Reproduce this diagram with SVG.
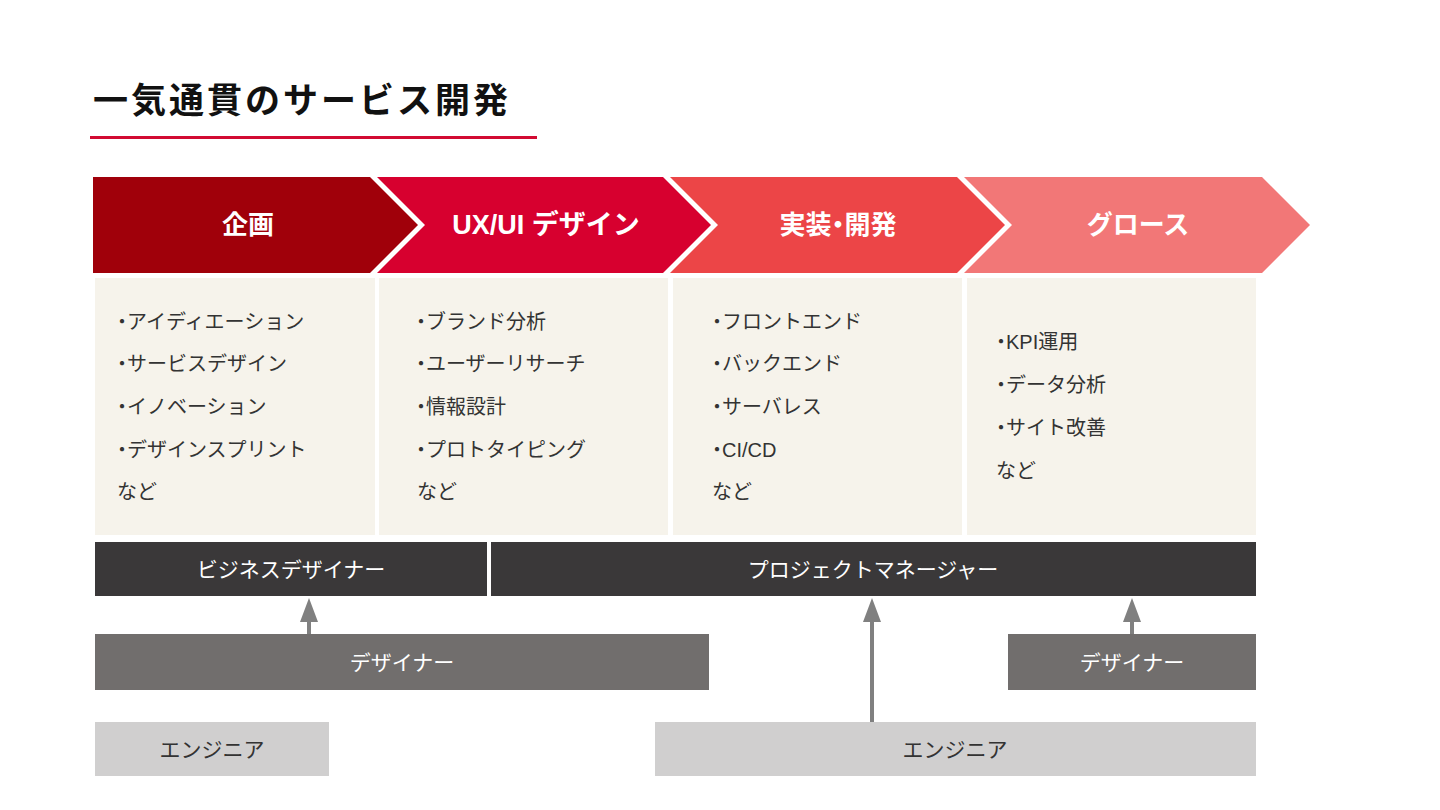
<svg xmlns="http://www.w3.org/2000/svg" width="1440" height="810" viewBox="0 0 1440 810">
<defs>
<style>
text{font-family:"Liberation Sans","Noto Sans CJK JP",sans-serif;}
.title{font-size:35px;font-weight:bold;fill:#111;letter-spacing:3px;}
.hd{font-size:26px;font-weight:bold;fill:#fff;text-anchor:middle;dominant-baseline:central;}
.box{fill:#F6F3EB;}
.li{font-size:20px;fill:#333;}
.dot{font-feature-settings:"palt" 1;}
.bar-d{fill:#3A3839;}
.bar-m{fill:#716E6D;}
.bar-l{fill:#D0CFCF;}
.bt{font-size:21px;fill:#fff;text-anchor:middle;dominant-baseline:central;}
.bt-d{font-size:21px;fill:#333;text-anchor:middle;dominant-baseline:central;}
.conn{stroke:#808080;stroke-width:4;fill:none;}
.arr{fill:#808080;}
</style>
</defs>
<rect width="1440" height="810" fill="#fff"/>
<g id="title">
<text class="title" x="93" y="113">一気通貫のサービス開発</text>
<rect x="90" y="136" width="447" height="3" fill="#D20A32"/>
</g>
<g id="phase-kikaku">
<polygon points="93,177 370,177 418,225 370,273 93,273" fill="#A0000A"/>
<text class="hd" x="248" y="225">企画</text>
</g>
<g id="phase-uxui">
<polygon points="377,177 663,177 711,225 663,273 377,273 425,225" fill="#D7002F"/>
<text class="hd" x="546" y="225" style="font-size:27px">UX/UI デザイン</text>
</g>
<g id="phase-dev">
<polygon points="670,177 957,177 1005,225 957,273 670,273 718,225" fill="#EC4547"/>
<text class="hd" x="838" y="225">実装<tspan class="dot">・</tspan>開発</text>
</g>
<g id="phase-growth">
<polygon points="964,177 1262,177 1310,225 1262,273 964,273 1012,225" fill="#F27777"/>
<text class="hd" x="1138" y="225">グロース</text>
</g>
<g id="box-kikaku">
<rect class="box" x="95" y="278" width="280" height="257"/>
<text class="li" x="117" y="329"><tspan class="dot">・</tspan>アイディエーション</text>
<text class="li" x="117" y="371"><tspan class="dot">・</tspan>サービスデザイン</text>
<text class="li" x="117" y="414"><tspan class="dot">・</tspan>イノベーション</text>
<text class="li" x="117" y="457"><tspan class="dot">・</tspan>デザインスプリント</text>
<text class="li" x="117" y="499">など</text>
</g>
<g id="box-uxui">
<rect class="box" x="379" y="278" width="289" height="257"/>
<text class="li" x="416" y="329"><tspan class="dot">・</tspan>ブランド分析</text>
<text class="li" x="416" y="371"><tspan class="dot">・</tspan>ユーザーリサーチ</text>
<text class="li" x="416" y="414"><tspan class="dot">・</tspan>情報設計</text>
<text class="li" x="416" y="457"><tspan class="dot">・</tspan>プロトタイピング</text>
<text class="li" x="417" y="499">など</text>
</g>
<g id="box-dev">
<rect class="box" x="673" y="278" width="289" height="257"/>
<text class="li" x="712" y="329"><tspan class="dot">・</tspan>フロントエンド</text>
<text class="li" x="712" y="371"><tspan class="dot">・</tspan>バックエンド</text>
<text class="li" x="712" y="414"><tspan class="dot">・</tspan>サーバレス</text>
<text class="li" x="712" y="457"><tspan class="dot">・</tspan>CI/CD</text>
<text class="li" x="712" y="499">など</text>
</g>
<g id="box-growth">
<rect class="box" x="967" y="278" width="289" height="257"/>
<text class="li" x="996" y="349"><tspan class="dot">・</tspan>KPI運用</text>
<text class="li" x="996" y="392"><tspan class="dot">・</tspan>データ分析</text>
<text class="li" x="996" y="435"><tspan class="dot">・</tspan>サイト改善</text>
<text class="li" x="996" y="478">など</text>
</g>
<g id="role-business-designer">
<rect class="bar-d" x="95" y="542" width="392" height="54"/>
<text class="bt" x="291" y="569">ビジネスデザイナー</text>
</g>
<g id="role-pm">
<rect class="bar-d" x="491" y="542" width="765" height="54"/>
<text class="bt" x="873" y="569">プロジェクトマネージャー</text>
</g>
<g id="role-designer-1">
<rect class="bar-m" x="95" y="634" width="614" height="56"/>
<text class="bt" x="402" y="662">デザイナー</text>
</g>
<g id="role-designer-2">
<rect class="bar-m" x="1008" y="634" width="248" height="56"/>
<text class="bt" x="1132" y="662">デザイナー</text>
</g>
<g id="role-engineer-1">
<rect class="bar-l" x="95" y="722" width="234" height="54"/>
<text class="bt-d" x="212" y="749">エンジニア</text>
</g>
<g id="role-engineer-2">
<rect class="bar-l" x="655" y="722" width="601" height="54"/>
<text class="bt-d" x="955" y="749">エンジニア</text>
</g>
<g id="connectors">
<line class="conn" x1="309" y1="634" x2="309" y2="620"/>
<polygon class="arr" points="309,598 300,622 318,622"/>
<line class="conn" x1="872" y1="722" x2="872" y2="620"/>
<polygon class="arr" points="872,598 863,622 881,622"/>
<line class="conn" x1="1132" y1="634" x2="1132" y2="620"/>
<polygon class="arr" points="1132,598 1123,622 1141,622"/>
</g>
</svg>
